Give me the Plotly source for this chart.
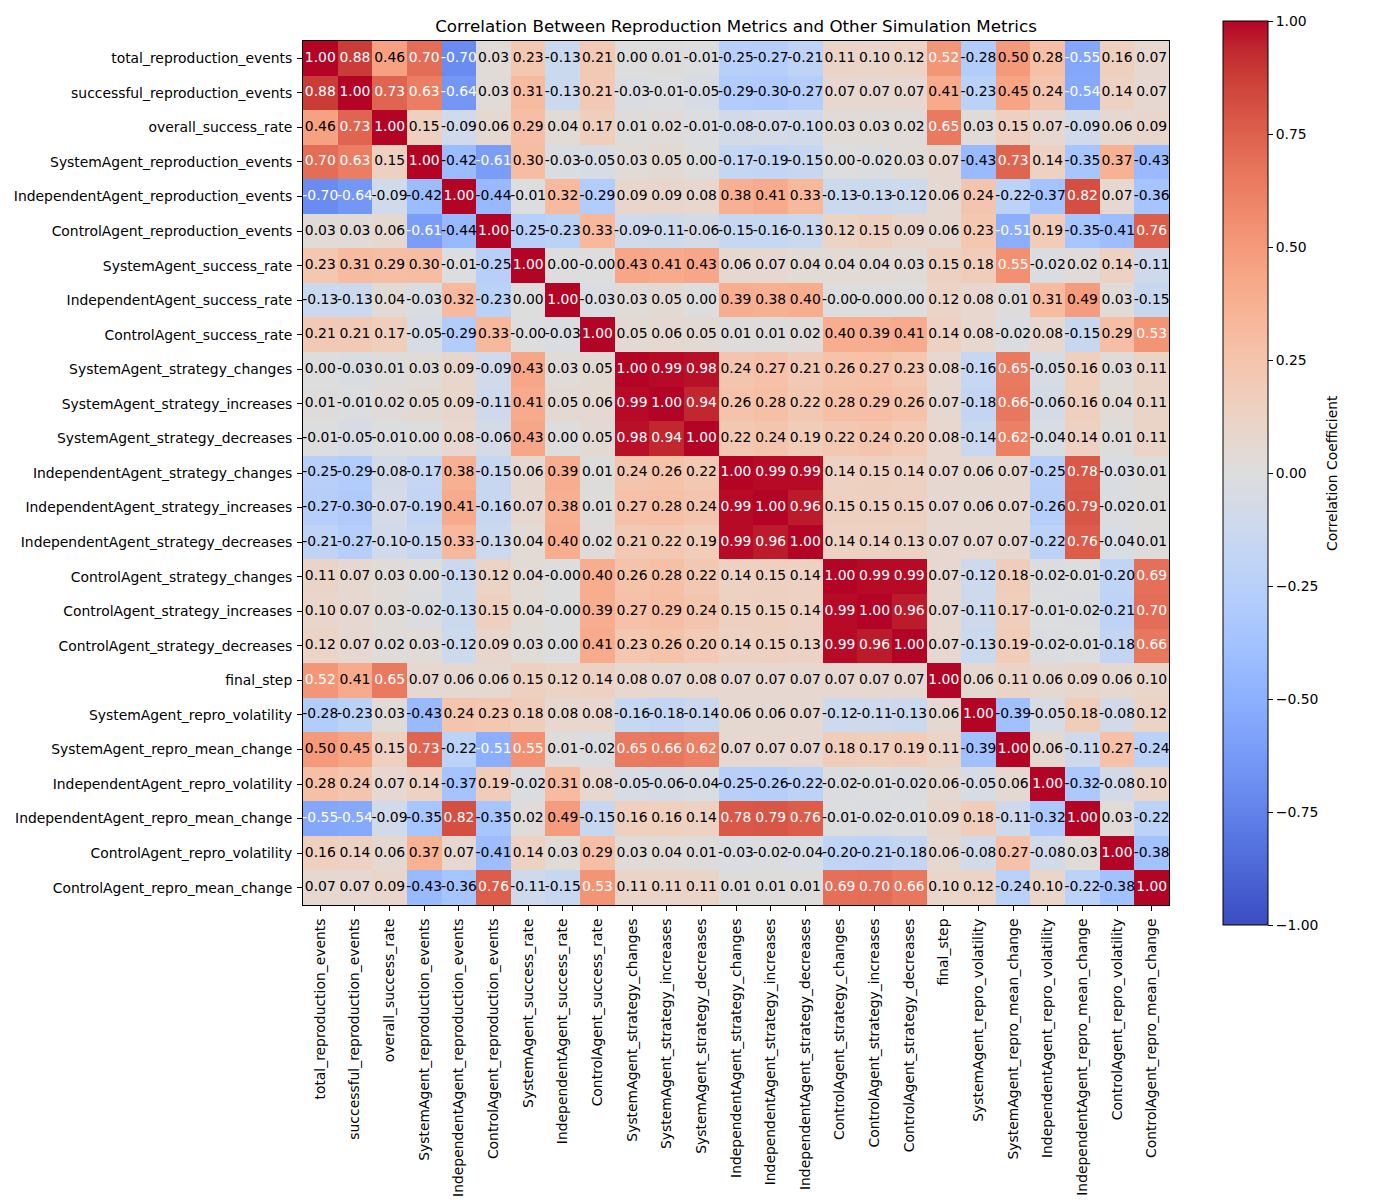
import plotly.graph_objects as go

labels = [
    "total_reproduction_events", "successful_reproduction_events", "overall_success_rate",
    "SystemAgent_reproduction_events", "IndependentAgent_reproduction_events",
    "ControlAgent_reproduction_events", "SystemAgent_success_rate",
    "IndependentAgent_success_rate", "ControlAgent_success_rate",
    "SystemAgent_strategy_changes", "SystemAgent_strategy_increases",
    "SystemAgent_strategy_decreases", "IndependentAgent_strategy_changes",
    "IndependentAgent_strategy_increases", "IndependentAgent_strategy_decreases",
    "ControlAgent_strategy_changes", "ControlAgent_strategy_increases",
    "ControlAgent_strategy_decreases", "final_step", "SystemAgent_repro_volatility",
    "SystemAgent_repro_mean_change", "IndependentAgent_repro_volatility",
    "IndependentAgent_repro_mean_change", "ControlAgent_repro_volatility",
    "ControlAgent_repro_mean_change",
]

corr = [
    [1.00, 0.88, 0.46, 0.70, -0.70, 0.03, 0.23, -0.13, 0.21, 0.00, 0.01, -0.01, -0.25, -0.27, -0.21, 0.11, 0.10, 0.12, 0.52, -0.28, 0.50, 0.28, -0.55, 0.16, 0.07],
    [0.88, 1.00, 0.73, 0.63, -0.64, 0.03, 0.31, -0.13, 0.21, -0.03, -0.01, -0.05, -0.29, -0.30, -0.27, 0.07, 0.07, 0.07, 0.41, -0.23, 0.45, 0.24, -0.54, 0.14, 0.07],
    [0.46, 0.73, 1.00, 0.15, -0.09, 0.06, 0.29, 0.04, 0.17, 0.01, 0.02, -0.01, -0.08, -0.07, -0.10, 0.03, 0.03, 0.02, 0.65, 0.03, 0.15, 0.07, -0.09, 0.06, 0.09],
    [0.70, 0.63, 0.15, 1.00, -0.42, -0.61, 0.30, -0.03, -0.05, 0.03, 0.05, 0.00, -0.17, -0.19, -0.15, 0.00, -0.02, 0.03, 0.07, -0.43, 0.73, 0.14, -0.35, 0.37, -0.43],
    [-0.70, -0.64, -0.09, -0.42, 1.00, -0.44, -0.01, 0.32, -0.29, 0.09, 0.09, 0.08, 0.38, 0.41, 0.33, -0.13, -0.13, -0.12, 0.06, 0.24, -0.22, -0.37, 0.82, 0.07, -0.36],
    [0.03, 0.03, 0.06, -0.61, -0.44, 1.00, -0.25, -0.23, 0.33, -0.09, -0.11, -0.06, -0.15, -0.16, -0.13, 0.12, 0.15, 0.09, 0.06, 0.23, -0.51, 0.19, -0.35, -0.41, 0.76],
    [0.23, 0.31, 0.29, 0.30, -0.01, -0.25, 1.00, 0.00, -0.0, 0.43, 0.41, 0.43, 0.06, 0.07, 0.04, 0.04, 0.04, 0.03, 0.15, 0.18, 0.55, -0.02, 0.02, 0.14, -0.11],
    [-0.13, -0.13, 0.04, -0.03, 0.32, -0.23, 0.00, 1.00, -0.03, 0.03, 0.05, 0.00, 0.39, 0.38, 0.40, -0.0, -0.0, 0.00, 0.12, 0.08, 0.01, 0.31, 0.49, 0.03, -0.15],
    [0.21, 0.21, 0.17, -0.05, -0.29, 0.33, -0.0, -0.03, 1.00, 0.05, 0.06, 0.05, 0.01, 0.01, 0.02, 0.40, 0.39, 0.41, 0.14, 0.08, -0.02, 0.08, -0.15, 0.29, 0.53],
    [0.00, -0.03, 0.01, 0.03, 0.09, -0.09, 0.43, 0.03, 0.05, 1.00, 0.99, 0.98, 0.24, 0.27, 0.21, 0.26, 0.27, 0.23, 0.08, -0.16, 0.65, -0.05, 0.16, 0.03, 0.11],
    [0.01, -0.01, 0.02, 0.05, 0.09, -0.11, 0.41, 0.05, 0.06, 0.99, 1.00, 0.94, 0.26, 0.28, 0.22, 0.28, 0.29, 0.26, 0.07, -0.18, 0.66, -0.06, 0.16, 0.04, 0.11],
    [-0.01, -0.05, -0.01, 0.00, 0.08, -0.06, 0.43, 0.00, 0.05, 0.98, 0.94, 1.00, 0.22, 0.24, 0.19, 0.22, 0.24, 0.20, 0.08, -0.14, 0.62, -0.04, 0.14, 0.01, 0.11],
    [-0.25, -0.29, -0.08, -0.17, 0.38, -0.15, 0.06, 0.39, 0.01, 0.24, 0.26, 0.22, 1.00, 0.99, 0.99, 0.14, 0.15, 0.14, 0.07, 0.06, 0.07, -0.25, 0.78, -0.03, 0.01],
    [-0.27, -0.30, -0.07, -0.19, 0.41, -0.16, 0.07, 0.38, 0.01, 0.27, 0.28, 0.24, 0.99, 1.00, 0.96, 0.15, 0.15, 0.15, 0.07, 0.06, 0.07, -0.26, 0.79, -0.02, 0.01],
    [-0.21, -0.27, -0.10, -0.15, 0.33, -0.13, 0.04, 0.40, 0.02, 0.21, 0.22, 0.19, 0.99, 0.96, 1.00, 0.14, 0.14, 0.13, 0.07, 0.07, 0.07, -0.22, 0.76, -0.04, 0.01],
    [0.11, 0.07, 0.03, 0.00, -0.13, 0.12, 0.04, -0.0, 0.40, 0.26, 0.28, 0.22, 0.14, 0.15, 0.14, 1.00, 0.99, 0.99, 0.07, -0.12, 0.18, -0.02, -0.01, -0.20, 0.69],
    [0.10, 0.07, 0.03, -0.02, -0.13, 0.15, 0.04, -0.0, 0.39, 0.27, 0.29, 0.24, 0.15, 0.15, 0.14, 0.99, 1.00, 0.96, 0.07, -0.11, 0.17, -0.01, -0.02, -0.21, 0.70],
    [0.12, 0.07, 0.02, 0.03, -0.12, 0.09, 0.03, 0.00, 0.41, 0.23, 0.26, 0.20, 0.14, 0.15, 0.13, 0.99, 0.96, 1.00, 0.07, -0.13, 0.19, -0.02, -0.01, -0.18, 0.66],
    [0.52, 0.41, 0.65, 0.07, 0.06, 0.06, 0.15, 0.12, 0.14, 0.08, 0.07, 0.08, 0.07, 0.07, 0.07, 0.07, 0.07, 0.07, 1.00, 0.06, 0.11, 0.06, 0.09, 0.06, 0.10],
    [-0.28, -0.23, 0.03, -0.43, 0.24, 0.23, 0.18, 0.08, 0.08, -0.16, -0.18, -0.14, 0.06, 0.06, 0.07, -0.12, -0.11, -0.13, 0.06, 1.00, -0.39, -0.05, 0.18, -0.08, 0.12],
    [0.50, 0.45, 0.15, 0.73, -0.22, -0.51, 0.55, 0.01, -0.02, 0.65, 0.66, 0.62, 0.07, 0.07, 0.07, 0.18, 0.17, 0.19, 0.11, -0.39, 1.00, 0.06, -0.11, 0.27, -0.24],
    [0.28, 0.24, 0.07, 0.14, -0.37, 0.19, -0.02, 0.31, 0.08, -0.05, -0.06, -0.04, -0.25, -0.26, -0.22, -0.02, -0.01, -0.02, 0.06, -0.05, 0.06, 1.00, -0.32, -0.08, 0.10],
    [-0.55, -0.54, -0.09, -0.35, 0.82, -0.35, 0.02, 0.49, -0.15, 0.16, 0.16, 0.14, 0.78, 0.79, 0.76, -0.01, -0.02, -0.01, 0.09, 0.18, -0.11, -0.32, 1.00, 0.03, -0.22],
    [0.16, 0.14, 0.06, 0.37, 0.07, -0.41, 0.14, 0.03, 0.29, 0.03, 0.04, 0.01, -0.03, -0.02, -0.04, -0.20, -0.21, -0.18, 0.06, -0.08, 0.27, -0.08, 0.03, 1.00, -0.38],
    [0.07, 0.07, 0.09, -0.43, -0.36, 0.76, -0.11, -0.15, 0.53, 0.11, 0.11, 0.11, 0.01, 0.01, 0.01, 0.69, 0.70, 0.66, 0.10, 0.12, -0.24, 0.10, -0.22, -0.38, 1.00],
]

colorbar_ticks = [-1.0, -0.75, -0.5, -0.25, 0.0, 0.25, 0.5, 0.75, 1.0]

# matplotlib "coolwarm" approximation
cw = [
    (59, 76, 192), (68, 90, 204), (77, 104, 215), (87, 117, 225), (98, 130, 234),
    (108, 142, 241), (119, 154, 247), (130, 165, 251), (141, 176, 254), (152, 185, 255),
    (163, 194, 255), (174, 201, 253), (184, 208, 249), (194, 213, 244), (204, 217, 238),
    (213, 219, 230), (221, 221, 221), (229, 216, 209), (236, 211, 197), (241, 204, 184),
    (245, 196, 172), (247, 187, 159), (247, 177, 147), (247, 166, 134), (244, 154, 123),
    (241, 141, 111), (236, 127, 99), (229, 112, 89), (222, 96, 77), (213, 80, 66),
    (203, 62, 56), (192, 40, 47), (180, 4, 38),
]
colorscale = [[i / (len(cw) - 1), "rgb(%d,%d,%d)" % c] for i, c in enumerate(cw)]

FONT = "DejaVu Sans"

tx, ty, tt, tc = [], [], [], []
for i, rl in enumerate(labels):
    for j, cl in enumerate(labels):
        v = corr[i][j]
        tx.append(cl)
        ty.append(rl)
        tt.append(f"{v:.2f}")
        tc.append("white" if abs(v) > 0.5 else "black")

fig = go.Figure()
fig.add_trace(go.Heatmap(
    z=corr, x=labels, y=labels,
    zmin=-1, zmax=1, colorscale=colorscale,
    hoverinfo="skip",
    colorbar=dict(
        x=1.0624, xanchor="left", xref="paper",
        y=0.5, yanchor="middle", yref="paper",
        lenmode="pixels", len=904,
        thickness=45, thicknessmode="pixels",
        outlinecolor="black", outlinewidth=1,
        xpad=0, ypad=0,
        tickvals=colorbar_ticks, tickformat=".2f",
        ticks="outside", ticklen=5, tickcolor="black",
        tickfont=dict(family=FONT, size=13.9, color="black"),
    ),
))
fig.add_trace(go.Scatter(
    x=tx, y=ty, text=tt, mode="text",
    textfont=dict(family=FONT, size=13.9, color=tc),
    hoverinfo="skip", showlegend=False,
))

fig.add_annotation(
    text="Correlation Coefficient", textangle=-90,
    x=1.1882, xref="paper", xanchor="center",
    y=0.5, yref="paper", yanchor="middle",
    showarrow=False, font=dict(family=FONT, size=13.9, color="black"),
)

fig.update_layout(
    width=1400, height=1200,
    margin=dict(l=303, r=231, t=41, b=295, autoexpand=False),
    paper_bgcolor="white", plot_bgcolor="white",
    font=dict(family=FONT, size=13.9, color="black"),
    title=dict(text="Correlation Between Reproduction Metrics and Other Simulation Metrics",
               x=0.5, xref="paper", xanchor="center",
               y=1, yref="paper", yanchor="bottom", pad=dict(b=9),
               font=dict(family=FONT, size=16.7, color="black")),
    showlegend=False,
)
fig.update_xaxes(
    type="category", tickangle=-90, ticks="outside", ticklen=5, tickcolor="black",
    showline=True, mirror=True, linecolor="black", linewidth=1,
    showgrid=False, zeroline=False, ticklabelstandoff=2,
    tickfont=dict(family=FONT, size=13.9, color="black"),
    range=[-0.5, len(labels) - 0.5],
)
fig.update_yaxes(
    type="category", ticks="outside", ticklen=5, tickcolor="black",
    showline=True, mirror=True, linecolor="black", linewidth=1,
    showgrid=False, zeroline=False, ticklabelstandoff=2,
    tickfont=dict(family=FONT, size=13.9, color="black"),
    range=[len(labels) - 0.5, -0.5],
)

fig.write_html("out.html")
